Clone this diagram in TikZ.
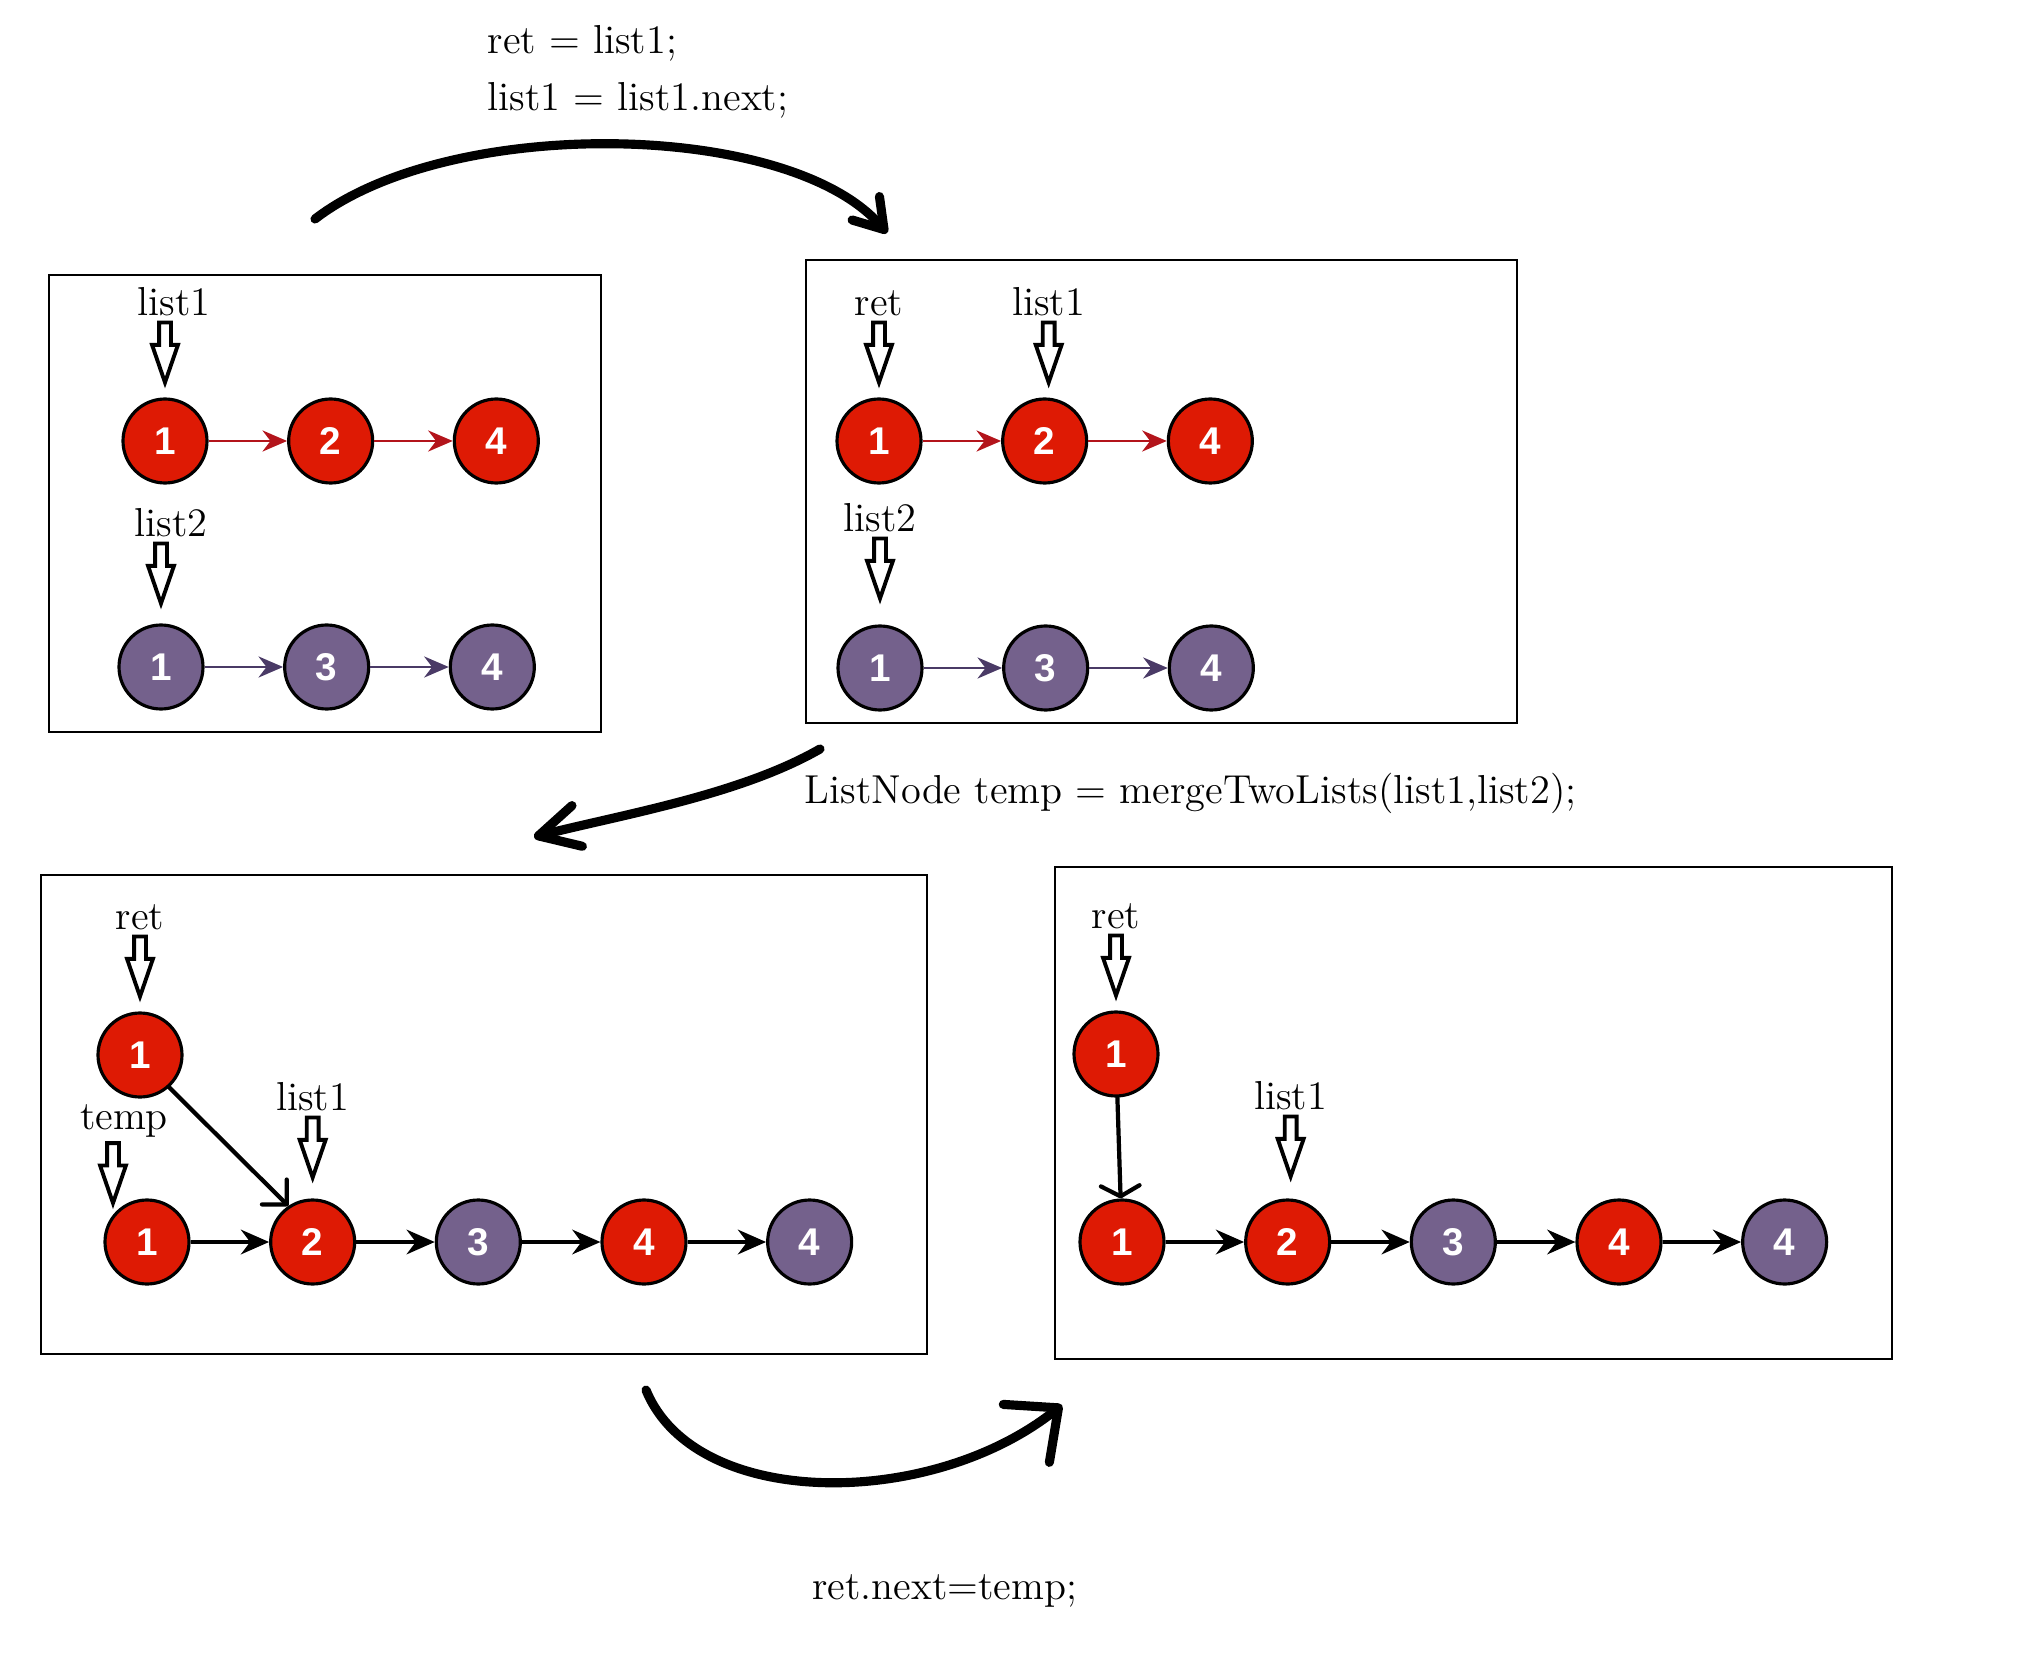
\documentclass[tikz,border=0pt]{standalone}
\usepackage{fontspec}
\usepackage{xcolor}
\usepackage{tikz}
\usetikzlibrary{positioning,arrows.meta,shapes.arrows}
\newfontfamily\digitfont{Liberation Sans}
\definecolor{nodered}{HTML}{DE1A04}
\definecolor{nodepurple}{HTML}{74618C}
\definecolor{linkred}{HTML}{B3141B}
\definecolor{linkpurple}{HTML}{4A3A66}

\begin{document}
\begin{tikzpicture}[
    node distance=0.785cm,
    font=\fontsize{11.5}{16}\selectfont,
    listnode/.style={circle, draw=black, line width=0.9pt, minimum size=0.84cm, inner sep=0pt, text=white, font=\digitfont\bfseries\fontsize{11}{11}\selectfont},
    rednode/.style={listnode, fill=nodered},
    purplenode/.style={listnode, fill=nodepurple},
    ptr/.style={single arrow, draw=black, line width=1.1pt, fill=white, shape border rotate=270, minimum height=0.6cm, inner sep=0.04cm, single arrow head extend=0.07cm, single arrow tip angle=38, anchor=tip},
    lbl/.style={inner sep=1pt},
    panel/.style={draw=black, line width=0.6pt},
    redlink/.style={-{Stealth[length=7pt,width=6pt]}, draw=linkred, line width=0.7pt},
    purplelink/.style={-{Stealth[length=7pt,width=6pt]}, draw=linkpurple, line width=0.7pt},
    blacklink/.style={-{Stealth[length=8pt,width=7pt]}, draw=black, line width=1.1pt},
    pen/.style={draw=black, line width=1.2pt, line cap=round},
    hand/.style={draw=black, line width=2.6pt, line cap=round, line join=round}
]
\path[use as bounding box] (0,0) rectangle (20.18,-16.78);

% frames
\draw[panel] (0.49,-2.75) rectangle (6.01,-7.32);
\draw[panel] (8.06,-2.60) rectangle (15.17,-7.23);
\draw[panel] (0.41,-8.75) rectangle (9.27,-13.54);
\draw[panel] (10.55,-8.67) rectangle (18.92,-13.59);

% panel 1
\node[rednode] (a1) at (1.65,-4.41) {1};
\node[rednode, right=of a1] (a2) {2};
\node[rednode, right=of a2] (a3) {4};
\node[purplenode] (b1) at (1.61,-6.67) {1};
\node[purplenode, right=of b1] (b2) {3};
\node[purplenode, right=of b2] (b3) {4};
\draw[redlink] (a1) -- (a2);
\draw[redlink] (a2) -- (a3);
\draw[purplelink] (b1) -- (b2);
\draw[purplelink] (b2) -- (b3);
\node[above=0.09cm of a1, ptr] (pa1) {};
\node[lbl, above=0pt of pa1.tail, xshift=0.09cm] (la1) {list1};
\node[above=0.14cm of b1, ptr] (pb1) {};
\node[lbl, above=0pt of pb1.tail, xshift=0.1cm] (lb1) {list2};

% panel 2
\node[rednode] (c1) at (8.79,-4.41) {1};
\node[rednode, right=of c1] (c2) {2};
\node[rednode, right=of c2] (c3) {4};
\node[purplenode] (d1) at (8.80,-6.68) {1};
\node[purplenode, right=of d1] (d2) {3};
\node[purplenode, right=of d2] (d3) {4};
\draw[redlink] (c1) -- (c2);
\draw[redlink] (c2) -- (c3);
\draw[purplelink] (d1) -- (d2);
\draw[purplelink] (d2) -- (d3);
\node[above=0.09cm of c1, ptr] (pc1) {};
\node[lbl, above=0pt of pc1.tail] (lc1) {ret};
\node[above=0.09cm of c2, ptr, xshift=0.04cm] (pc2) {};
\node[lbl, above=0pt of pc2.tail] (lc2) {list1};
\node[above=0.2cm of d1, ptr] (pd1) {};
\node[lbl, above=0pt of pd1.tail] (ld1) {list2};

% panel 3
\node[rednode] (r3) at (1.40,-10.55) {1};
\node[rednode] (e1) at (1.47,-12.42) {1};
\node[rednode, right=of e1] (e2) {2};
\node[purplenode, right=of e2] (e3) {3};
\node[rednode, right=of e3] (e4) {4};
\node[purplenode, right=of e4] (e5) {4};
\draw[blacklink] (e1) -- (e2);
\draw[blacklink] (e2) -- (e3);
\draw[blacklink] (e3) -- (e4);
\draw[blacklink] (e4) -- (e5);
\draw[pen, -{Straight Barb[length=5pt,width=10pt,round]}] (r3.-48) -- (e2.124);
\node[above=0.09cm of r3, ptr] (pr3) {};
\node[lbl, above=0pt of pr3.tail] (lr3) {ret};
\node[ptr] (pe1) at (1.13,-12.09) {};
\node[lbl, above=0pt of pe1.tail, xshift=0.11cm] (le1) {temp};
\node[above=0.15cm of e2, ptr] (pe2) {};
\node[lbl, above=0pt of pe2.tail] (le2) {list1};

% panel 4
\node[rednode] (r4) at (11.16,-10.54) {1};
\node[rednode] (f1) at (11.22,-12.42) {1};
\node[rednode, right=of f1] (f2) {2};
\node[purplenode, right=of f2] (f3) {3};
\node[rednode, right=of f3] (f4) {4};
\node[purplenode, right=of f4] (f5) {4};
\draw[blacklink] (f1) -- (f2);
\draw[blacklink] (f2) -- (f3);
\draw[blacklink] (f3) -- (f4);
\draw[blacklink] (f4) -- (f5);
\draw[pen, -{Straight Barb[length=3pt,width=11pt,round]}] (r4) -- (f1);
\node[above=0.09cm of r4, ptr] (pr4) {};
\node[lbl, above=0pt of pr4.tail] (lr4) {ret};
\node[above=0.16cm of f2, ptr, xshift=0.03cm] (pf2) {};
\node[lbl, above=0pt of pf2.tail] (lf2) {list1};

% code lines
\node[align=left, anchor=west, inner sep=0pt] (code1) at (4.87,-0.72) {ret = list1;\\list1 = list1.next;};
\node[anchor=west, inner sep=0pt] (code2) at (8.04,-7.93) {ListNode temp = mergeTwoLists(list1,list2);};
\node[inner sep=0pt] (code3) at (9.45,-15.91) {ret.next=temp;};

% hand-drawn arrows
\coordinate (s1) at (3.15,-2.19);
\coordinate (t1) at (8.87,-2.33);
\draw[hand, -{Straight Barb[length=0.28cm,width=0.36cm,round]}] (s1) .. controls (4.5,-1.15) and (7.9,-1.2) .. (t1);
\coordinate (s2) at (8.20,-7.49);
\coordinate (t2) at (5.34,-8.37);
\draw[hand, -{Straight Barb[length=0.4cm,width=0.42cm,round]}] (s2) .. controls (7.4,-7.95) and (6.2,-8.15) .. (t2);
\coordinate (s3) at (6.46,-13.90);
\coordinate (t3) at (10.62,-14.05);
\draw[hand, -{Straight Barb[length=0.41cm,width=0.74cm,round]}] (s3) .. controls (6.95,-15.1) and (9.3,-15.1) .. (t3);
\end{tikzpicture}
\end{document}
